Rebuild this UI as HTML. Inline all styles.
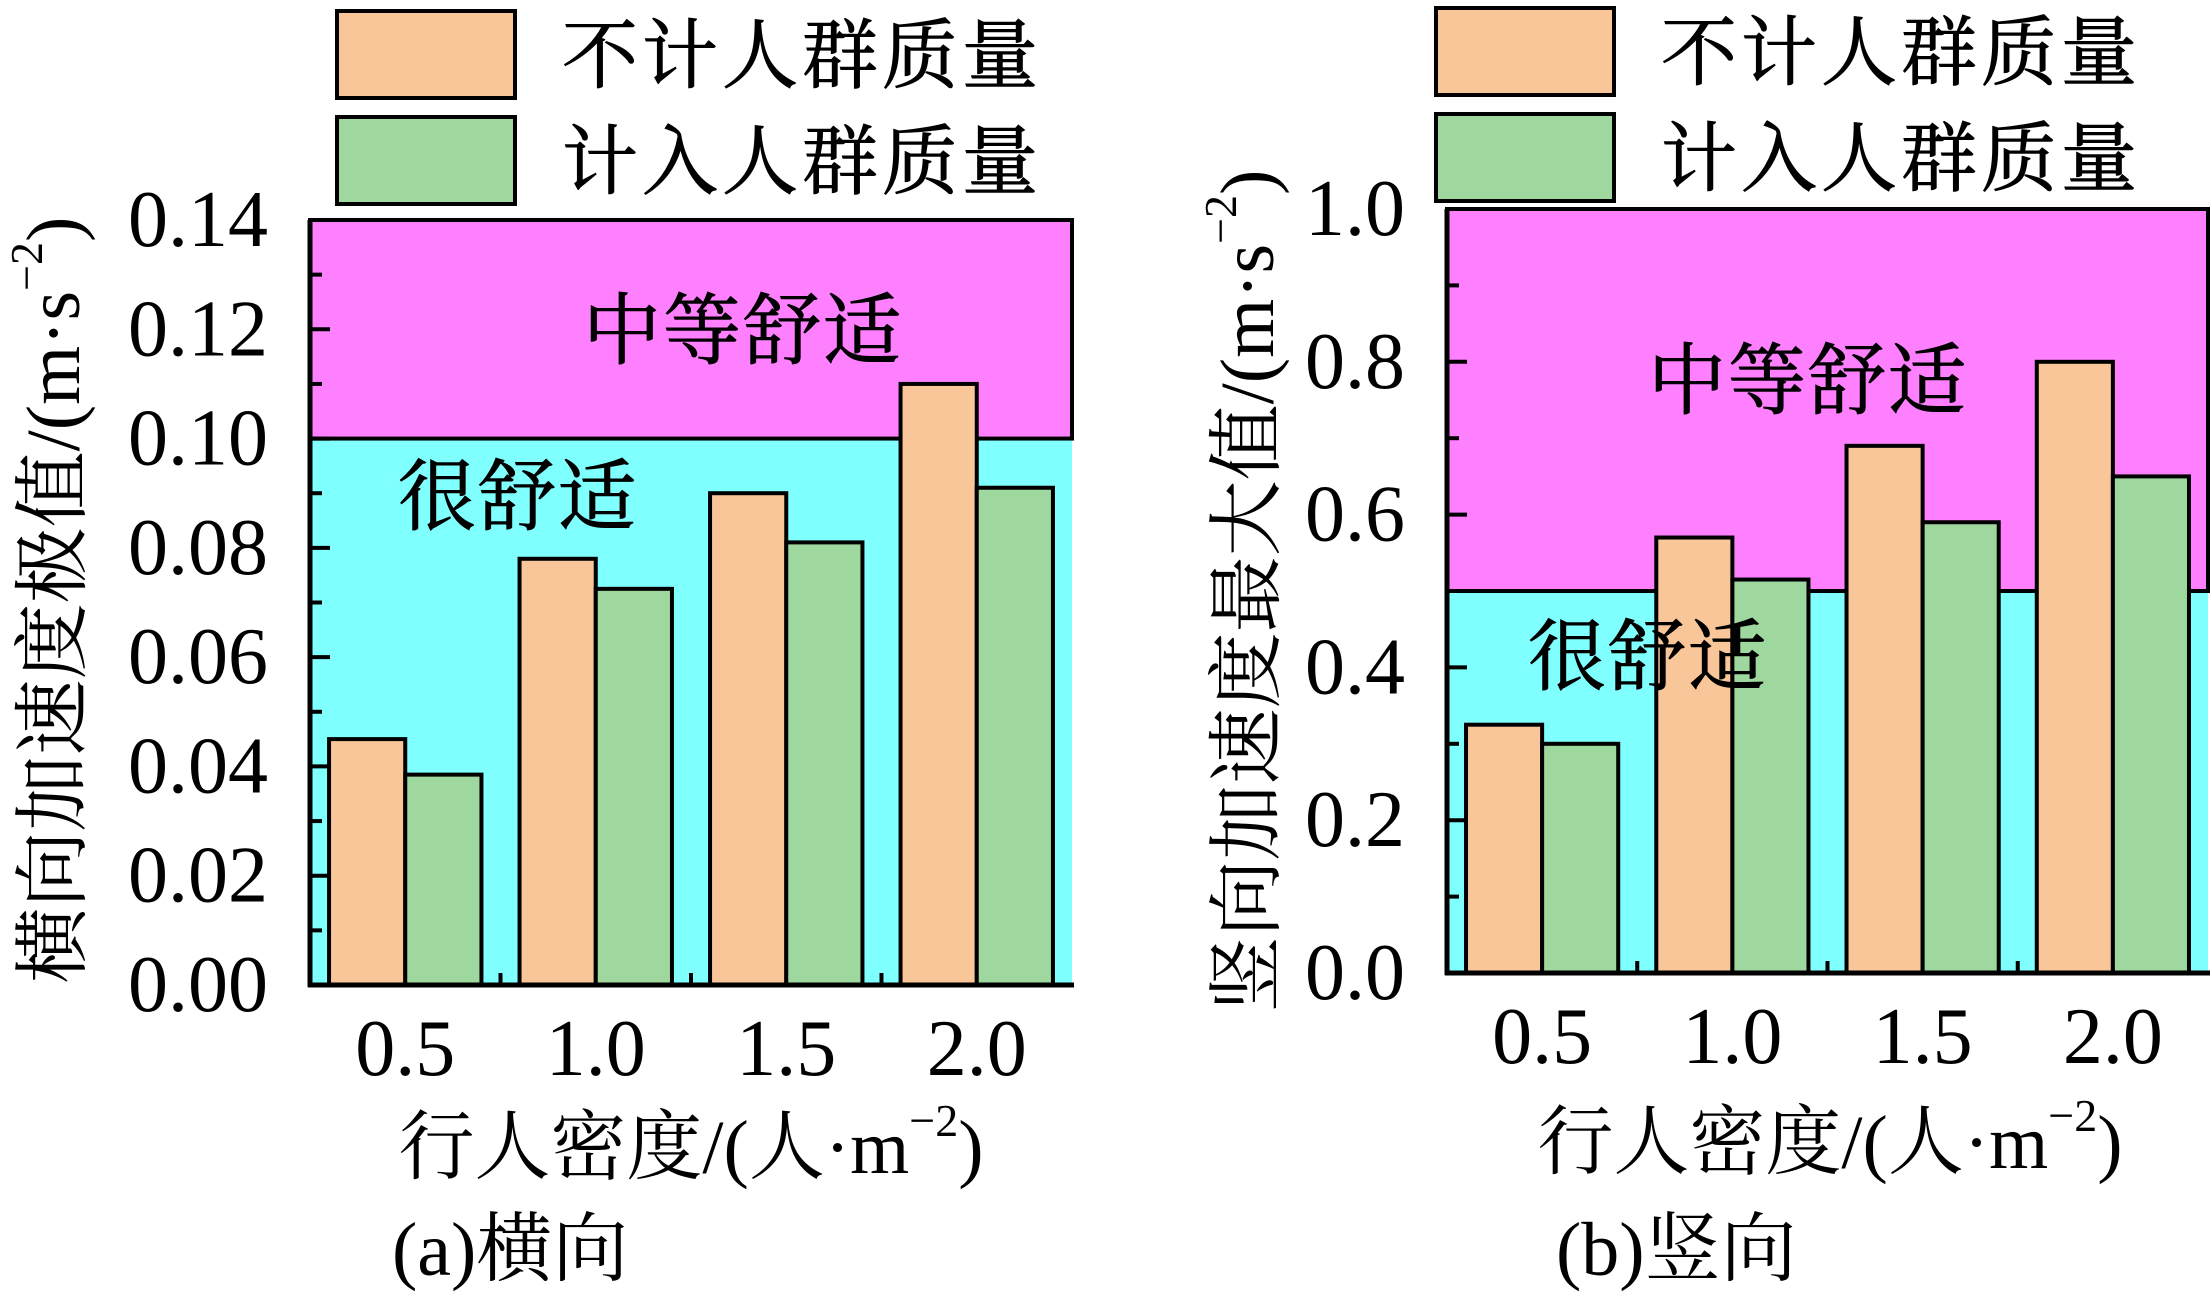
<!DOCTYPE html>
<html><head><meta charset="utf-8"><style>
html,body{margin:0;padding:0;background:#fff;}
svg text{font-family:"Liberation Serif","Noto Serif CJK SC",serif;fill:#000;}
</style></head><body>
<svg id="svg" width="2212" height="1300" viewBox="0 0 2212 1300" xmlns="http://www.w3.org/2000/svg"></svg>
<script>
const categories = ["0.5","1.0","1.5","2.0"];
const lateralNoMass = [0.045, 0.078, 0.090, 0.110];
const lateralWithMass = [0.0385, 0.0725, 0.081, 0.091];
const verticalNoMass = [0.325, 0.57, 0.69, 0.80];
const verticalWithMass = [0.30, 0.515, 0.59, 0.65];
const lateralTicks = ["0.00","0.02","0.04","0.06","0.08","0.10","0.12","0.14"];
const verticalTicks = ["0.0","0.2","0.4","0.6","0.8","1.0"];
const seriesNames = ["不计人群质量","计入人群质量"];
const zoneNames = ["中等舒适","很舒适"];

const NS="http://www.w3.org/2000/svg";
const svg=document.getElementById('svg');
function mk(tag,attrs,parent){const e=document.createElementNS(NS,tag);for(const k in attrs)e.setAttribute(k,attrs[k]);(parent||svg).appendChild(e);return e;}

function panel(o){
  const g=mk('g',{});
  
  
  const y=v=>o.bottom-(v-0)/(o.ymax)*(o.bottom-o.top);
  const slot=(o.right-o.left)/categories.length;
  const xc=i=>o.left+slot*(i+0.5);
  const bw=slot*0.4;
  const cy=mk('rect',{x:o.left,y:y(o.thr),width:o.right-o.left,height:o.bottom-y(o.thr),fill:'#80ffff'},g);
  
  
  const mg=mk('rect',{x:o.left,y:o.top,width:o.right-o.left,height:y(o.thr)-o.top,fill:'#ff80ff',stroke:'#000','stroke-width':4},g);
  
  
  const z1=mk('text',{x:o.z1[0],y:o.z1[1],'font-size':78,'text-anchor':'middle','dominant-baseline':'central','letter-spacing':2,stroke:'#000','stroke-width':1},g);z1.textContent=zoneNames[0];
  
  
  for(let i=0;i<categories.length;i++){
    const b1=mk('rect',{x:xc(i)-bw,y:y(o.a[i]),width:bw,height:o.bottom-y(o.a[i]),fill:'#f9c699',stroke:'#000','stroke-width':4},g);
    
    
    const b2=mk('rect',{x:xc(i),y:y(o.b[i]),width:bw,height:o.bottom-y(o.b[i]),fill:'#9fd89f',stroke:'#000','stroke-width':4},g);
    
    
    const t=mk('text',{x:xc(i),y:o.bottom+90,'font-size':80,'text-anchor':'middle'},g);t.textContent=categories[i];
    
    
    if(i>0){mk('line',{x1:o.left+slot*i,x2:o.left+slot*i,y1:o.bottom,y2:o.bottom-12,stroke:'#000','stroke-width':4},g);}
  }
  const z2=mk('text',{x:o.z2[0],y:o.z2[1],'font-size':78,'text-anchor':'middle','dominant-baseline':'central','letter-spacing':2,stroke:'#000','stroke-width':1},g);z2.textContent=zoneNames[1];
  
  
  o.ticks.forEach((lab,i)=>{
    const v=parseFloat(lab);
    mk('line',{x1:o.left,x2:o.left+20,y1:y(v),y2:y(v),stroke:'#000','stroke-width':4},g);
    if(i<o.ticks.length-1){const vm=v+o.step/2;mk('line',{x1:o.left,x2:o.left+12,y1:y(vm),y2:y(vm),stroke:'#000','stroke-width':4},g);}
    const t=mk('text',{x:o.left-42,y:y(v),'font-size':80,'text-anchor':'end','dominant-baseline':'central'},g);t.textContent=lab;
    
    
  });
  mk('line',{x1:o.left,x2:o.left,y1:o.top,y2:o.bottom+2,stroke:'#000','stroke-width':5},g);
  mk('line',{x1:o.left-2,x2:o.right+2,y1:o.bottom,y2:o.bottom,stroke:'#000','stroke-width':5},g);
  const yt=mk('text',{x:0,y:0,'font-size':76,'text-anchor':'middle','dominant-baseline':'central',transform:`translate(${o.yt[0]},${o.yt[1]}) rotate(-90)`},g);
  yt.innerHTML=o.ytitle+'/(m·s<tspan dy="-28" font-size="46">−2</tspan><tspan dy="28">)</tspan>';
  
  
  const xt=mk('text',{x:o.xt[0],y:o.xt[1],'font-size':76,'text-anchor':'middle','dominant-baseline':'central'},g);
  xt.innerHTML='行人密度/(人·m<tspan dy="-28" font-size="46">−2</tspan><tspan dy="28">)</tspan>';
  
  
  const cap=mk('text',{x:o.cap[0],y:o.cap[1],'font-size':76,'dominant-baseline':'central'},g);
  cap.textContent=o.caption;
  
  
  const cols=['#f9c699','#9fd89f'];
  for(let k=0;k<2;k++){
    const r=mk('rect',{x:o.lg[0],y:o.lg[1]+k*106,width:178,height:87,fill:cols[k],stroke:'#000','stroke-width':4},g);
    
    
    const t=mk('text',{x:o.lg[0]+225,y:o.lg[1]+46+k*106,'font-size':76,'dominant-baseline':'central','letter-spacing':4,stroke:'#000','stroke-width':1},g);t.textContent=seriesNames[k];
    
    
  }
}
panel({name:'lateral-chart',left:310,right:1072,top:220,bottom:985,ymax:0.14,thr:0.10,step:0.02,ticks:lateralTicks,a:lateralNoMass,b:lateralWithMass,
  z1:[743,331],z2:[518,497],yt:[54,600],ytitle:'横向加速度极值',xt:[691,1148],cap:[392,1250],caption:'(a)横向',lg:[337,11]});
panel({name:'vertical-chart',left:1447,right:2208,top:209,bottom:973,ymax:1.0,thr:0.5,step:0.2,ticks:verticalTicks,a:verticalNoMass,b:verticalWithMass,
  z1:[1808,381],z2:[1648,657],yt:[1248,591],ytitle:'竖向加速度最大值',xt:[1830,1143],cap:[1556,1250],caption:'(b)竖向',lg:[1436,8]});
</script>
</body></html>
